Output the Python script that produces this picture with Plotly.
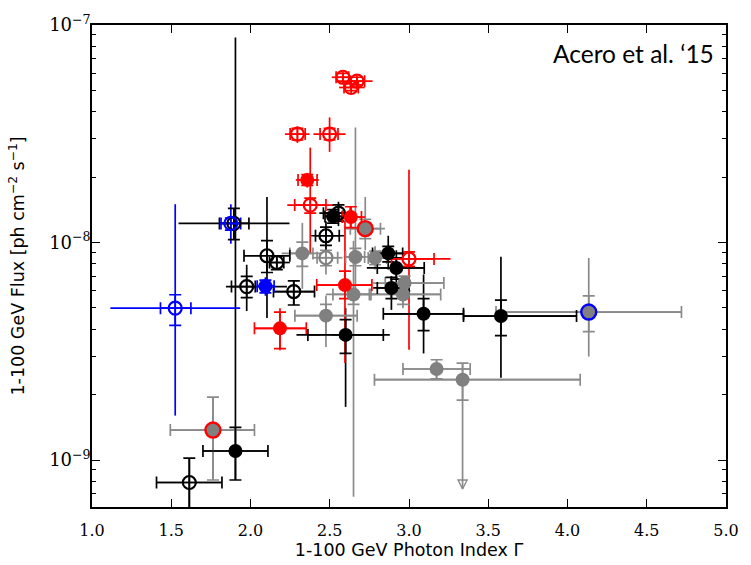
import math
import plotly.graph_objects as go

# Each row: x, y, x_stat_lo, x_stat_hi, y_stat_lo, y_stat_hi,
#           x_tot_lo, x_tot_hi, y_tot_lo, y_tot_hi
red_open = [
    (2.296, 3.15e-8, 2.250, 2.345, 2.96e-8, 3.35e-8, 2.217, 2.372, 2.87e-8, 3.42e-8),
    (2.499, 3.15e-8, 2.439, 2.552, 2.96e-8, 3.35e-8, 2.397, 2.600, 2.61e-8, 3.76e-8),
    (2.583, 5.75e-8, 2.540, 2.620, 5.52e-8, 5.99e-8, 2.513, 2.641, 5.40e-8, 6.12e-8),
    (2.672, 5.52e-8, 2.630, 2.720, 5.30e-8, 5.75e-8, 2.617, 2.770, 5.16e-8, 5.85e-8),
    (2.635, 5.16e-8, 2.590, 2.680, 4.99e-8, 5.36e-8, 2.559, 2.720, 4.85e-8, 5.47e-8),
    (2.377, 1.486e-8, 2.279, 2.476, 1.364e-8, 1.60e-8, 2.232, 2.527, 8.94e-9, 2.73e-8),
    (3.000, 8.40e-9, 2.890, 3.158, 7.77e-9, 9.05e-9, 2.879, 3.262, 3.21e-9, 2.16e-8),
]
red_filled = [
    (2.358, 1.94e-8, 2.300, 2.420, 1.83e-8, 2.05e-8, 2.286, 2.431, 1.79e-8, 2.09e-8),
    (2.633, 1.309e-8, 2.580, 2.700, 1.17e-8, 1.46e-8, 2.569, 2.724, 1.17e-8, 1.46e-8),
    (2.596, 6.37e-9, 2.418, 2.766, 5.52e-9, 7.38e-9, 2.418, 2.766, 2.79e-9, 1.253e-8),
    (2.186, 4.03e-9, 2.025, 2.352, 3.25e-9, 4.79e-9, 2.025, 2.352, 3.20e-9, 4.99e-9),
]
gray_red_edge = [
    (2.724, 1.158e-8, 2.630, 2.820, 1.042e-8, 1.279e-8, 2.600, 2.848, 9.21e-9, 1.62e-8),
    (1.763, 1.373e-9, 1.494, 2.025, 8.09e-10, 1.945e-9, 1.494, 2.025, 8.09e-10, 1.945e-9),
]
blue_open = [
    (1.525, 4.99e-9, 1.432, 1.624, 4.16e-9, 5.75e-9, 1.116, 1.935, 1.60e-9, 1.50e-8),
    (1.876, 1.224e-8, 1.814, 1.938, 1.139e-8, 1.296e-8, 1.814, 1.938, 9.87e-9, 1.50e-8),
]
blue_filled = [
    (2.094, 6.29e-9, 2.042, 2.149, 5.87e-9, 6.71e-9, 2.042, 2.149, 5.69e-9, 6.92e-9),
]
gray_blue_edge = [
    (4.134, 4.79e-9, 3.549, 4.719, 3.89e-9, 5.68e-9, 3.549, 4.719, 2.99e-9, 8.49e-9),
]
black_open = [
    (1.614, 7.88e-10, 1.407, 1.820, 5.00e-10, 1.02e-9, 1.407, 1.820, 5.00e-10, 1.02e-9),
    (1.895, 1.224e-8, 1.804, 1.990, 1.031e-8, 1.435e-8, 1.546, 2.246, 1.031e-8, 1.435e-8),
    (2.104, 8.69e-9, 1.959, 2.248, 7.28e-9, 1.02e-8, 1.959, 2.248, 4.50e-9, 1.62e-8),
    (2.166, 8.09e-9, 2.120, 2.210, 7.51e-9, 8.66e-9, 2.120, 2.248, 7.51e-9, 8.66e-9),
    (1.976, 6.27e-9, 1.880, 2.030, 5.58e-9, 6.99e-9, 1.845, 2.230, 4.84e-9, 7.90e-9),
    (2.273, 5.95e-9, 2.145, 2.404, 5.16e-9, 6.66e-9, 2.145, 2.404, 5.16e-9, 6.66e-9),
    (2.476, 1.074e-8, 2.410, 2.560, 9.70e-9, 1.178e-8, 2.383, 2.590, 9.21e-9, 1.253e-8),
    (2.555, 1.364e-8, 2.460, 2.630, 1.253e-8, 1.49e-8, 2.434, 2.651, 1.19e-8, 1.54e-8),
]
black_filled = [
    (1.905, 1.10e-9, 1.700, 2.110, 8.09e-10, 1.412e-9, 1.700, 2.110, 8.09e-10, 8.75e-8),
    (2.521, 1.318e-8, 2.470, 2.580, 1.227e-8, 1.416e-8, 2.470, 2.580, 1.227e-8, 1.416e-8),
    (2.869, 8.91e-9, 2.770, 2.960, 8.15e-9, 9.60e-9, 2.755, 2.972, 7.51e-9, 1.074e-8),
    (2.920, 7.64e-9, 2.800, 3.096, 6.78e-9, 8.49e-9, 2.734, 3.096, 6.12e-9, 9.21e-9),
    (2.889, 6.18e-9, 2.800, 3.000, 5.52e-9, 6.92e-9, 2.774, 3.000, 4.90e-9, 7.01e-9),
    (3.092, 4.70e-9, 2.838, 3.344, 3.93e-9, 5.52e-9, 2.838, 3.344, 3.09e-9, 7.13e-9),
    (3.580, 4.59e-9, 3.344, 4.057, 3.73e-9, 5.43e-9, 3.344, 4.057, 2.39e-9, 8.60e-9),
    (2.600, 3.76e-9, 2.362, 2.838, 3.09e-9, 4.42e-9, 2.290, 2.879, 1.755e-9, 4.99e-9),
]
gray_filled = [
    (2.327, 8.91e-9, 2.248, 2.394, 7.77e-9, 1.003e-8, 2.197, 2.445, 6.12e-9, 1.231e-8),
    (2.662, 8.58e-9, 2.600, 2.720, 7.82e-9, 9.40e-9, 2.588, 2.743, 5.81e-9, 3.38e-8),
    (2.786, 8.49e-9, 2.743, 2.859, 7.90e-9, 9.12e-9, 2.743, 2.859, 7.51e-9, 9.60e-9),
    (2.972, 6.51e-9, 2.850, 3.220, 5.99e-9, 7.01e-9, 2.774, 3.220, 5.99e-9, 7.01e-9),
    (2.962, 5.77e-9, 2.750, 3.200, 5.19e-9, 6.37e-9, 2.680, 3.200, 4.99e-9, 6.78e-9),
    (2.650, 5.77e-9, 2.520, 2.760, 5.19e-9, 6.37e-9, 2.476, 2.786, 6.78e-10, 1.02e-8),
    (2.476, 4.61e-9, 2.280, 2.673, 3.75e-9, 5.19e-9, 2.280, 2.673, 3.31e-9, 5.71e-9),
    (3.174, 2.62e-9, 2.962, 3.386, 2.36e-9, 2.89e-9, 2.962, 3.386, 2.36e-9, 2.89e-9),
    (3.338, 2.34e-9, 2.782, 4.080, 1.886e-9, 2.79e-9, 2.782, 4.080, 7.36e-10, 2.79e-9),
]
gray_open = [
    (2.476, 8.51e-9, 2.420, 2.550, 7.82e-9, 9.21e-9, 2.394, 2.580, 7.13e-9, 9.70e-9),
]

# Flux upper limit (arrow tip)
limit_x = [3.338]
limit_y = [7.36e-10]

y_tick_vals = [1e-9, 1e-8, 1e-7]
y_tick_text = ["10<sup>−9</sup>", "10<sup>−8</sup>", "10<sup>−7</sup>"]

RED = "#ff0000"
BLUE = "#0000ff"
BLACK = "#000000"
GRAY = "#808080"
GRAY_ERR = "#8a8a8a"

ERR_W = 1.7
CAP = 6

SERIF = "DejaVu Serif, Liberation Serif, serif"
SANS = "DejaVu Sans, Liberation Sans, sans-serif"


def columns(rows):
    return [list(c) for c in zip(*rows)]


def err_trace(rows, color, lo_x, hi_x, lo_y, hi_y, cap):
    c = columns(rows)
    x, y = c[0], c[1]
    xl, xh, yl, yh = c[lo_x], c[hi_x], c[lo_y], c[hi_y]
    return go.Scatter(
        x=x, y=y, mode="markers",
        marker=dict(size=1, opacity=0),
        hoverinfo="skip",
        error_x=dict(type="data", symmetric=False,
                     array=[h - v for h, v in zip(xh, x)],
                     arrayminus=[v - l for v, l in zip(x, xl)],
                     color=color, thickness=ERR_W, width=cap),
        error_y=dict(type="data", symmetric=False,
                     array=[h - v for h, v in zip(yh, y)],
                     arrayminus=[v - l for v, l in zip(y, yl)],
                     color=color, thickness=ERR_W, width=cap),
    )


def marker_trace(rows, symbol, fill, edge, size, edge_w):
    c = columns(rows)
    return go.Scatter(
        x=c[0], y=c[1], mode="markers",
        marker=dict(symbol=symbol, size=size, color=fill,
                    line=dict(color=edge, width=edge_w)),
    )


groups = [
    # rows, error colour
    (gray_filled, GRAY_ERR),
    (gray_open, GRAY_ERR),
    (gray_red_edge, GRAY_ERR),
    (gray_blue_edge, GRAY_ERR),
    (black_filled, BLACK),
    (black_open, BLACK),
    (red_filled, RED),
    (red_open, RED),
    (blue_filled, BLUE),
    (blue_open, BLUE),
]

fig = go.Figure()

# total uncertainties (no caps), then statistical ones (with caps)
for rows, col in groups:
    fig.add_trace(err_trace(rows, col, 6, 7, 8, 9, 0))
for rows, col in groups:
    fig.add_trace(err_trace(rows, col, 2, 3, 4, 5, CAP))

# upper-limit arrowhead
fig.add_trace(go.Scatter(
    x=limit_x, y=limit_y, mode="markers",
    marker=dict(symbol="arrow-down-open", size=9, color=GRAY_ERR,
                line=dict(color=GRAY_ERR, width=1.4)),
))

fig.add_trace(marker_trace(gray_filled, "circle", GRAY, GRAY, 14, 0))
fig.add_trace(marker_trace(gray_open, "circle-open", GRAY, GRAY, 13, 2.2))
fig.add_trace(marker_trace(black_filled, "circle", BLACK, BLACK, 14, 0))
fig.add_trace(marker_trace(black_open, "circle-open", BLACK, BLACK, 13, 2.2))
fig.add_trace(marker_trace(red_filled, "circle", RED, RED, 14, 0))
fig.add_trace(marker_trace(red_open, "circle-open", RED, RED, 13, 2.2))
fig.add_trace(marker_trace(gray_red_edge, "circle", GRAY, RED, 15, 2.4))
fig.add_trace(marker_trace(blue_filled, "circle", BLUE, BLUE, 14, 0))
fig.add_trace(marker_trace(blue_open, "circle-open", BLUE, BLUE, 13, 2.2))
fig.add_trace(marker_trace(gray_blue_edge, "circle", GRAY, BLUE, 15, 2.4))

minor_y = [k * 10.0 ** e for e in (-10, -9, -8) for k in range(2, 10)]

fig.update_layout(
    width=751, height=565,
    margin=dict(l=92, r=14, t=17, b=50),
    paper_bgcolor="white", plot_bgcolor="white",
    showlegend=False,
    xaxis=dict(
        range=[1.0, 5.0], tick0=1.0, dtick=0.5, tickformat=".1f",
        ticks="inside", ticklen=8, tickwidth=1.2, tickcolor="black",
        showline=True, linewidth=1.5, linecolor="black", mirror="allticks",
        showgrid=False, zeroline=False, ticklabelstandoff=8,
        tickfont=dict(family=SERIF, size=16, color="black"),
        title=dict(text="1-100 GeV Photon Index Γ", standoff=1,
                   font=dict(family=SANS, size=17.5, color="black")),
    ),
    yaxis=dict(
        type="log", range=[math.log10(6.08e-10), -7.0],
        tickmode="array", tickvals=y_tick_vals, ticktext=y_tick_text,
        ticks="inside", ticklen=8, tickwidth=1.2, tickcolor="black",
        minor=dict(tickmode="array", tickvals=minor_y, ticks="inside",
                   ticklen=4, tickwidth=1, tickcolor="black", showgrid=False),
        showline=True, linewidth=1.5, linecolor="black", mirror="allticks",
        showgrid=False, zeroline=False, ticklabelstandoff=-4,
        tickfont=dict(family=SERIF, size=18, color="black"),
        title=dict(text="1-100 GeV Flux [ph cm<sup>−2</sup> s<sup>−1</sup>]",
                   standoff=20,
                   font=dict(family=SANS, size=17.5, color="black")),
    ),
    annotations=[dict(
        text="Acero et al. ‘15", xref="paper", yref="paper",
        x=0.854, y=0.94, xanchor="center", yanchor="middle",
        showarrow=False, font=dict(family="Lato", size=24.5, color="black"),
    )],
)

fig.write_html("out.html")
